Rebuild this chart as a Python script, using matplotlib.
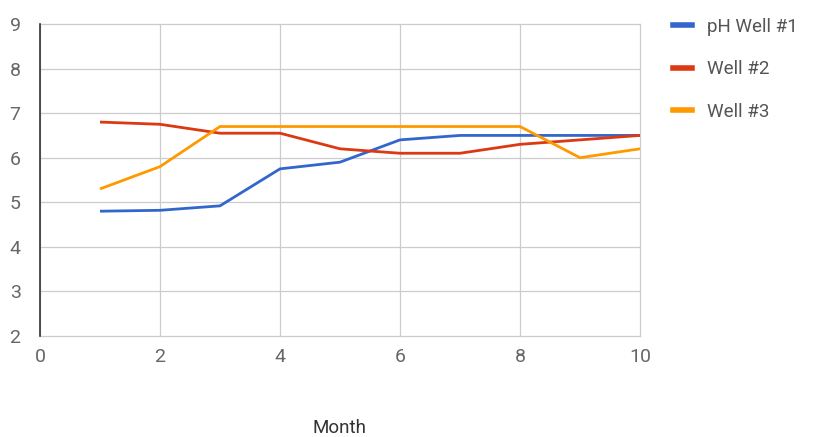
import matplotlib
matplotlib.use("Agg")
import matplotlib.pyplot as plt
from matplotlib.lines import Line2D

plt.rcParams['font.family'] = ['Roboto', 'DejaVu Sans']

months = [1, 2, 3, 4, 5, 6, 7, 8, 9, 10]
well1 = [4.8, 4.82, 4.92, 5.75, 5.9, 6.4, 6.5, 6.5, 6.5, 6.5]
well2 = [6.8, 6.75, 6.55, 6.55, 6.2, 6.1, 6.1, 6.3, 6.4, 6.5]
well3 = [5.3, 5.8, 6.7, 6.7, 6.7, 6.7, 6.7, 6.7, 6.0, 6.2]
series_names = ["pH Well #1", "Well #2", "Well #3"]
colors = ["#3366cc", "#dc3912", "#ff9900"]
x_ticks = [0, 2, 4, 6, 8, 10]
y_ticks = [2, 3, 4, 5, 6, 7, 8, 9]

fig = plt.figure(figsize=(8.27, 4.37), dpi=100)
ax = fig.add_axes([40 / 827, 101 / 437, 600 / 827, 312 / 437])

for vals, c in zip([well1, well2, well3], colors):
    ax.plot(months, vals, color=c, lw=2.0, solid_capstyle='butt', zorder=3, clip_on=False)

ax.set_xlim(0, 10)
ax.set_ylim(2, 9)
ax.set_xticks(x_ticks)
ax.set_yticks(y_ticks)
ax.grid(True, color="#cccccc", lw=0.9)
for gl in ax.get_xgridlines() + ax.get_ygridlines():
    gl.set_clip_on(False)
ax.set_axisbelow(True)
for s in ["top", "right", "bottom"]:
    ax.spines[s].set_visible(False)
ax.spines["left"].set_color("#333333")
ax.spines["left"].set_linewidth(1.2)
ax.spines["left"].set_zorder(2.5)
ax.tick_params(length=0, labelsize=14, colors="#666666", pad=9)
ax.tick_params(axis='y', pad=14)

fig.text(340 / 827, 1 - 428 / 437, "Month", ha="center", va="center",
         fontsize=13.5, color="#333333")

handles = [Line2D([], [], color=c, lw=4) for c in colors]
fig.legend(handles, series_names, loc="upper left", bbox_to_anchor=(656 / 827, 1 - 1 / 437),
           frameon=False, fontsize=13.5, labelcolor="#555555", handlelength=1.0,
           handletextpad=0.8, labelspacing=1.3)

fig.savefig("out.png", dpi=100)
